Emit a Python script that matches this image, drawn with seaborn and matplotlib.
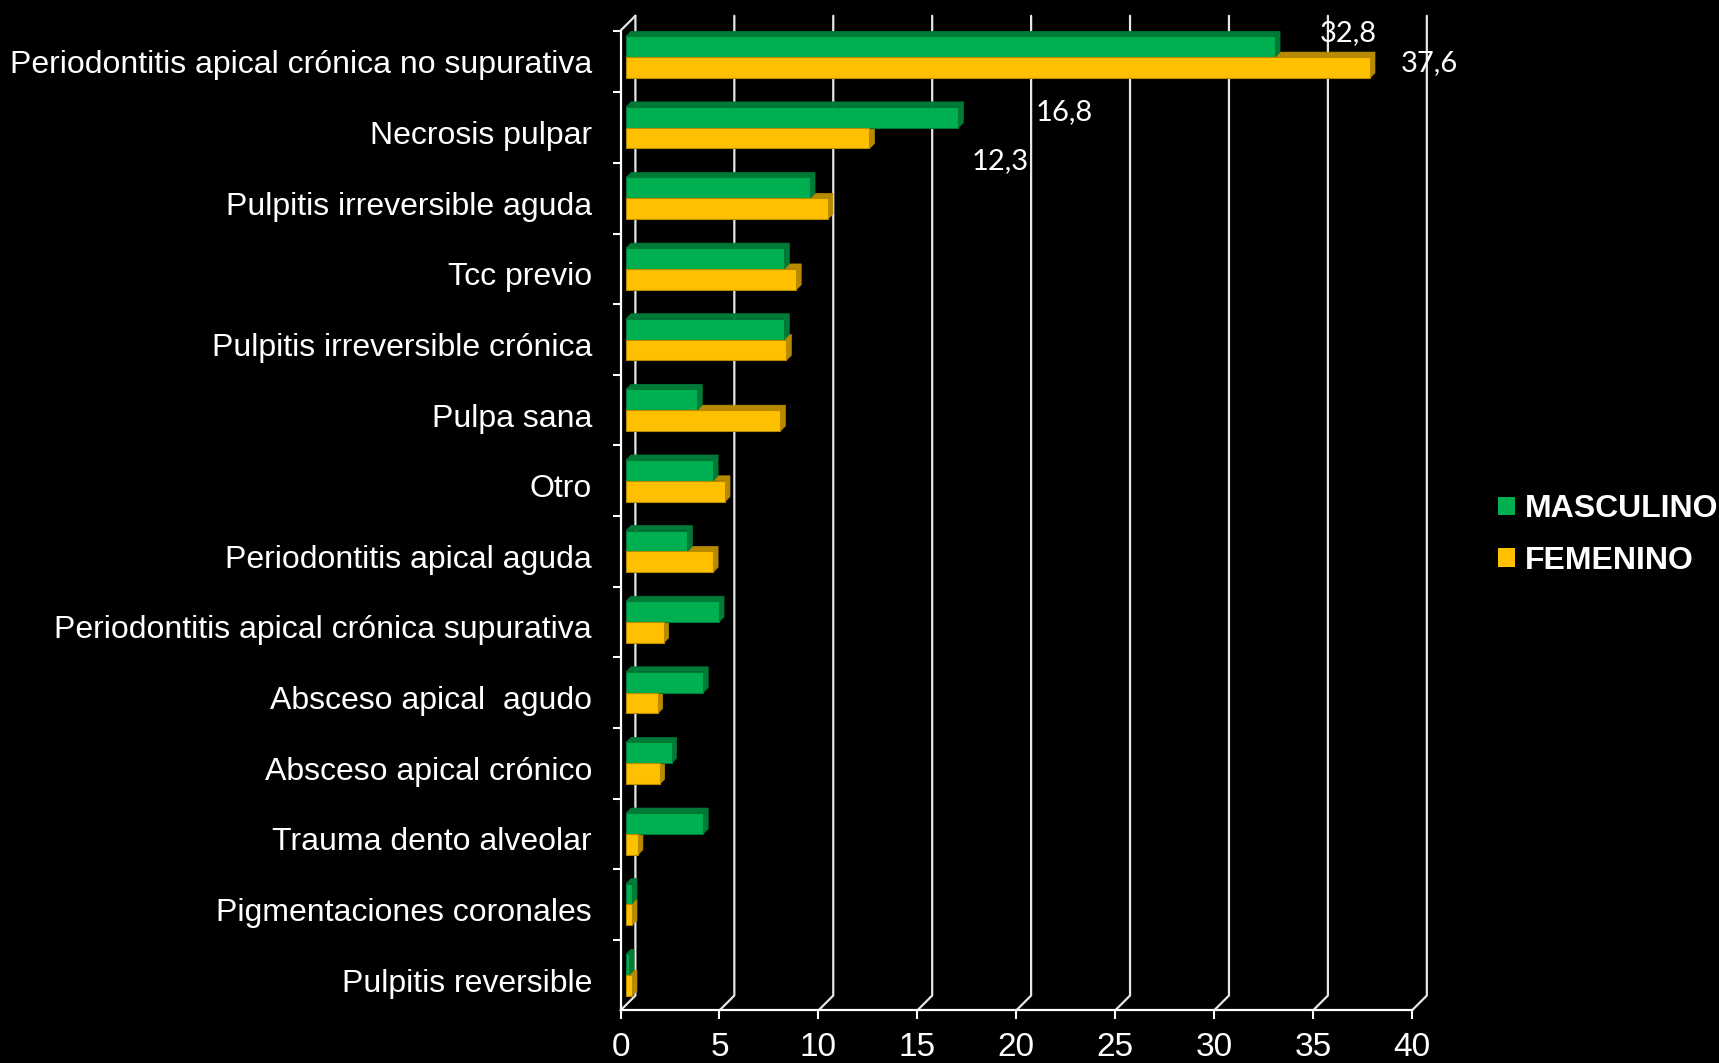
import matplotlib
matplotlib.use("Agg")
import matplotlib.pyplot as plt
import seaborn as sns
import pandas as pd
from matplotlib.patches import Polygon

# Datos
categorias = [
    "Periodontitis apical crónica no supurativa",
    "Necrosis pulpar",
    "Pulpitis irreversible aguda",
    "Tcc previo",
    "Pulpitis irreversible crónica",
    "Pulpa sana",
    "Otro",
    "Periodontitis apical aguda",
    "Periodontitis apical crónica supurativa",
    "Absceso apical  agudo",
    "Absceso apical crónico",
    "Trauma dento alveolar",
    "Pigmentaciones coronales",
    "Pulpitis reversible",
]
masculino = [32.8, 16.8, 9.3, 8.0, 8.0, 3.6, 4.4, 3.1, 4.7, 3.9, 2.3, 3.9, 0.3, 0.15]
femenino = [37.6, 12.3, 10.2, 8.6, 8.1, 7.8, 5.0, 4.4, 1.9, 1.6, 1.7, 0.6, 0.3, 0.3]
series = ["MASCULINO", "FEMENINO"]
colores = ["#00B050", "#FFC000"]
colores_lado = ["#007A37", "#B88A00"]
x_ticks = [0, 5, 10, 15, 20, 25, 30, 35, 40]

# etiquetas de datos (solo las dos primeras categorías)
etiquetas = ["32,8", "37,6", "16,8", "12,3"]
etiqueta_x = [36.8, 40.9, 22.4, 19.2]
etiqueta_y = [-0.34, 0.09, 0.78, 1.47]

df = pd.DataFrame({
    "categoria": categorias * 2,
    "valor": masculino + femenino,
    "sexo": [series[0]] * len(categorias) + [series[1]] * len(categorias),
})

sns.set_theme(style="white")
plt.rcParams["font.family"] = ["Liberation Sans", "DejaVu Sans"]

fig = plt.figure(figsize=(17.19, 10.63), dpi=100, facecolor="black")
ax = fig.add_axes([0.361, 0.0495, 0.4604, 0.9217])
ax.set_facecolor("black")

sns.barplot(data=df, x="valor", y="categoria", hue="sexo", orient="h",
            order=categorias, hue_order=series,
            palette=dict(zip(series, colores)), saturation=1,
            width=0.59, ax=ax, errorbar=None)

# efecto 3D
DX, DY = 0.75, 0.21        # profundidad del plano trasero
OFF = 0.28                 # desplazamiento de las barras
ddx, ddy = 0.25, 0.07      # profundidad de cada barra
y_bottom, y_top = 13.5, -0.374

for cont, col, lado in zip(ax.containers, colores, colores_lado):
    for p in cont:
        p.set_x(p.get_x() + OFF)
        x0, y0, w, h = p.get_x(), p.get_y(), p.get_width(), p.get_height()
        x1 = x0 + w
        p.set_edgecolor(lado)
        p.set_linewidth(0.8)
        p.set_zorder(5)
        top = Polygon([(x0, y0), (x0 + ddx, y0 - ddy), (x1 + ddx, y0 - ddy), (x1, y0)],
                      closed=True, facecolor=lado, edgecolor=lado, lw=0.5, zorder=3)
        side = Polygon([(x1, y0), (x1 + ddx, y0 - ddy), (x1 + ddx, y0 + h - ddy), (x1, y0 + h)],
                       closed=True, facecolor=lado, edgecolor=lado, lw=0.5, zorder=4)
        ax.add_patch(top)
        ax.add_patch(side)

# rejilla del plano trasero
for xv in x_ticks:
    ax.plot([xv, xv + DX, xv + DX], [y_bottom, y_bottom - DY, y_top - DY],
            color="#E6E6E6", lw=1.6, clip_on=False, zorder=1)
ax.plot([0, DX], [y_top, y_top - DY], color="#E6E6E6", lw=1.6, clip_on=False, zorder=1)

for t, xv, yv in zip(etiquetas, etiqueta_x, etiqueta_y):
    ax.text(xv, yv, t, color="white", fontsize=21, family=["Lato", "DejaVu Sans"],
            ha="center", va="center", zorder=6, clip_on=False)

ax.set_xlim(0, 40)
ax.set_ylim(y_bottom, y_top)
ax.set_xticks(x_ticks)
ax.set_xlabel("")
ax.set_ylabel("")
ax.set_yticks([i + 0.5 for i in range(13)] + [y_top], minor=True)

# nombres de categoría dibujados a mano para ajustar su posición
ax.set_yticks(range(len(categorias)), [""] * len(categorias))
for i, nombre in enumerate(categorias):
    ax.text(-0.036, i + 0.07, nombre, transform=ax.get_yaxis_transform(),
            ha="right", va="center_baseline", color="white", fontsize=23)

ax.tick_params(axis="x", colors="white", labelcolor="white", labelsize=24,
               direction="out", length=6.5, width=1.5, pad=9, bottom=True)
ax.tick_params(axis="y", which="major", length=0)
ax.tick_params(axis="y", which="minor", direction="out", length=6, width=1.5,
               color="white", left=True)

for s in ["top", "right"]:
    ax.spines[s].set_visible(False)
for s in ["left", "bottom"]:
    ax.spines[s].set_color("white")
    ax.spines[s].set_linewidth(1.6)

sns.move_legend(ax, "center left", bbox_to_anchor=(0.855, 0.4965),
                bbox_transform=fig.transFigure, frameon=False, title=None,
                prop={"weight": "bold", "size": 23}, labelcolor="white",
                handlelength=0.52, handleheight=0.52, handletextpad=0.3,
                labelspacing=0.68)
for h in ax.get_legend().legend_handles:
    h.set_edgecolor("none")

fig.savefig("out.png", dpi=100, facecolor="black")
